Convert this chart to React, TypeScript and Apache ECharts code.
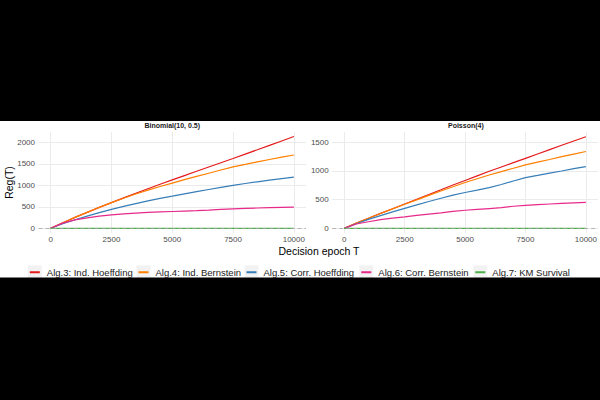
import React, { useEffect, useRef } from "react";
import * as echarts from "echarts";

const FONT = "Liberation Sans, Arial, Helvetica, sans-serif";

const panelTitles = ["Binomial(10, 0.5)", "Poisson(4)"];
const seriesNames = [
  "Alg.3: Ind. Hoeffding",
  "Alg.4: Ind. Bernstein",
  "Alg.5: Corr. Hoeffding",
  "Alg.6: Corr. Bernstein",
  "Alg.7: KM Survival",
];
const seriesColors = ["#E41A1C", "#FF7F00", "#377EB8", "#E7298A", "#4DAF4A"];

const xTicks = [0, 2500, 5000, 7500, 10000];
const yTicksBin = [0, 500, 1000, 1500, 2000];
const yTicksPois = [0, 500, 1000, 1500];

const epochs = [0, 500, 1000, 1500, 2000, 2500, 3000, 3500, 4000, 4500, 5000, 5500, 6000, 6500, 7000, 7500, 8000, 8500, 9000, 9500, 10000];

// Binomial(10, 0.5)
const binIndHoeffding = [0, 130, 255, 372, 487, 600, 710, 818, 923, 1027, 1130, 1230, 1330, 1430, 1530, 1628, 1730, 1832, 1935, 2037, 2140];
const binIndBernstein = [0, 130, 255, 372, 487, 598, 702, 800, 890, 975, 1055, 1135, 1210, 1285, 1360, 1433, 1490, 1550, 1605, 1658, 1710];
const binCorrHoeffding = [0, 110, 200, 285, 365, 442, 510, 575, 640, 700, 751, 805, 855, 905, 955, 1000, 1045, 1085, 1125, 1160, 1195];
const binCorrBernstein = [0, 120, 195, 245, 285, 315, 335, 355, 370, 382, 392, 402, 412, 425, 440, 455, 465, 474, 482, 488, 492];
const binKM = [0, 0, 0, 0, 0, 0, 0, 0, 0, 0, 0, 0, 0, 0, 0, 0, 0, 0, 0, 0, 0];

// Poisson(4)
const poisIndHoeffding = [0, 90, 175, 260, 342, 424, 507, 590, 672, 755, 835, 915, 995, 1070, 1146, 1221, 1297, 1372, 1448, 1523, 1598];
const poisIndBernstein = [0, 90, 175, 258, 340, 419, 497, 575, 650, 724, 800, 865, 930, 990, 1048, 1106, 1155, 1200, 1250, 1295, 1340];
const poisCorrHoeffding = [0, 80, 155, 222, 288, 349, 410, 468, 525, 580, 625, 665, 710, 765, 825, 885, 922, 962, 1000, 1040, 1075];
const poisCorrBernstein = [0, 75, 115, 150, 178, 200, 225, 248, 270, 295, 315, 330, 345, 360, 385, 400, 412, 424, 435, 445, 453];
const poisKM = [0, 0, 0, 0, 0, 0, 0, 0, 0, 0, 0, 0, 0, 0, 0, 0, 0, 0, 0, 0, 0];

const panelData = [
  [binIndHoeffding, binIndBernstein, binCorrHoeffding, binCorrBernstein, binKM],
  [poisIndHoeffding, poisIndBernstein, poisCorrHoeffding, poisCorrBernstein, poisKM],
];

const legendLefts = [27.8, 136.5, 244.5, 359.3, 473.3];
const LEGEND_TOP = 265.3;

export default function App() {
  const ref = useRef<HTMLDivElement>(null);

  useEffect(() => {
    if (!ref.current) return;
    const chart = echarts.init(ref.current, undefined, { renderer: "svg" });

    const grids = [
      { left: 38.5, top: 132, width: 267.5, height: 100.9 },
      { left: 332.2, top: 132, width: 267.3, height: 100.9 },
    ];
    const yRanges = [
      { min: -107, max: 2246, ticks: yTicksBin },
      { min: -80, max: 1680, ticks: yTicksPois },
    ];

    const axisLabelStyle = {
      color: "#4D4D4D",
      fontSize: 8,
      fontFamily: FONT,
      formatter: (v: number) => String(v),
    };
    const gridLine = { show: true, lineStyle: { color: "#EBEBEB", width: 1 } };

    const xAxes = grids.map((_, i) => ({
      type: "value",
      gridIndex: i,
      min: -500,
      max: 10500,
      axisLine: { show: false },
      axisTick: { show: false, customValues: xTicks },
      axisLabel: { ...axisLabelStyle, margin: 3, customValues: xTicks },
      splitLine: gridLine,
    }));
    const yAxes = grids.map((_, i) => ({
      type: "value",
      gridIndex: i,
      min: yRanges[i].min,
      max: yRanges[i].max,
      axisLine: { show: false },
      axisTick: { show: false, customValues: yRanges[i].ticks },
      axisLabel: { ...axisLabelStyle, margin: 3.5, customValues: yRanges[i].ticks },
      splitLine: gridLine,
    }));

    const series: any[] = [];
    grids.forEach((_, p) => {
      series.push({
        type: "line",
        xAxisIndex: p,
        yAxisIndex: p,
        data: [],
        z: 1,
        silent: true,
        markLine: {
          silent: true,
          symbol: "none",
          label: { show: false },
          lineStyle: { color: "#A6A6A6", type: [4, 3], width: 0.8 },
          data: [{ yAxis: 0 }],
        },
      });
      seriesNames.forEach((name, s) => {
        series.push({
          type: "line",
          name,
          xAxisIndex: p,
          yAxisIndex: p,
          showSymbol: false,
          symbol: "none",
          color: seriesColors[s],
          lineStyle: { width: 1.2, color: seriesColors[s] },
          z: 2 + s * 0.01,
          data: epochs.map((t, k) => [t, panelData[p][s][k]]),
        });
      });
    });

    const iconPath =
      "path://M0,0h0.01v0.01h-0.01z M2,6h10v2h-10z M13.99,13.99h0.01v0.01h-0.01z";

    const legends = seriesNames.map((name, i) => ({
      data: [name],
      left: legendLefts[i],
      top: LEGEND_TOP,
      padding: 0,
      itemWidth: 14,
      itemHeight: 14,
      icon: iconPath,
      itemStyle: { borderWidth: 0 },
      selectedMode: false,
      textStyle: { color: "#1A1A1A", fontSize: 9.5, fontFamily: FONT },
    }));

    const graphic: any[] = [
      ...legendLefts.map((l) => ({
        type: "rect",
        z: 0,
        silent: true,
        shape: { x: l, y: LEGEND_TOP, width: 14, height: 14 },
        style: { fill: "#F2F2F2" },
      })),
      ...panelTitles.map((t, i) => ({
        type: "text",
        z: 10,
        x: grids[i].left + grids[i].width / 2,
        y: 125.7,
        style: {
          text: t,
          align: "center",
          verticalAlign: "middle",
          fontSize: 7,
          fontWeight: "bold",
          fontFamily: FONT,
          fill: "#1A1A1A",
        },
      })),
      {
        type: "text",
        z: 10,
        x: 319,
        y: 251,
        style: {
          text: "Decision epoch T",
          align: "center",
          verticalAlign: "middle",
          fontSize: 10.5,
          fontFamily: FONT,
          fill: "#000",
        },
      },
      {
        type: "text",
        z: 10,
        x: 8.5,
        y: 182.5,
        rotation: Math.PI / 2,
        style: {
          text: "Reg(T)",
          align: "center",
          verticalAlign: "middle",
          fontSize: 10.5,
          fontFamily: FONT,
          fill: "#000",
        },
      },
      {
        type: "rect",
        z: 100,
        silent: true,
        shape: { x: 0, y: 0, width: 600, height: 121 },
        style: { fill: "#000" },
      },
      {
        type: "rect",
        z: 100,
        silent: true,
        shape: { x: 0, y: 277.5, width: 600, height: 122.5 },
        style: { fill: "#000" },
      },
    ];

    chart.setOption({
      animation: false,
      backgroundColor: "#FFFFFF",
      grid: grids,
      xAxis: xAxes,
      yAxis: yAxes,
      legend: legends,
      series,
      graphic,
    });

    return () => chart.dispose();
  }, []);

  return (
    <div
      ref={ref}
      style={{ position: "fixed", left: 0, top: 0, width: 600, height: 400 }}
    />
  );
}
